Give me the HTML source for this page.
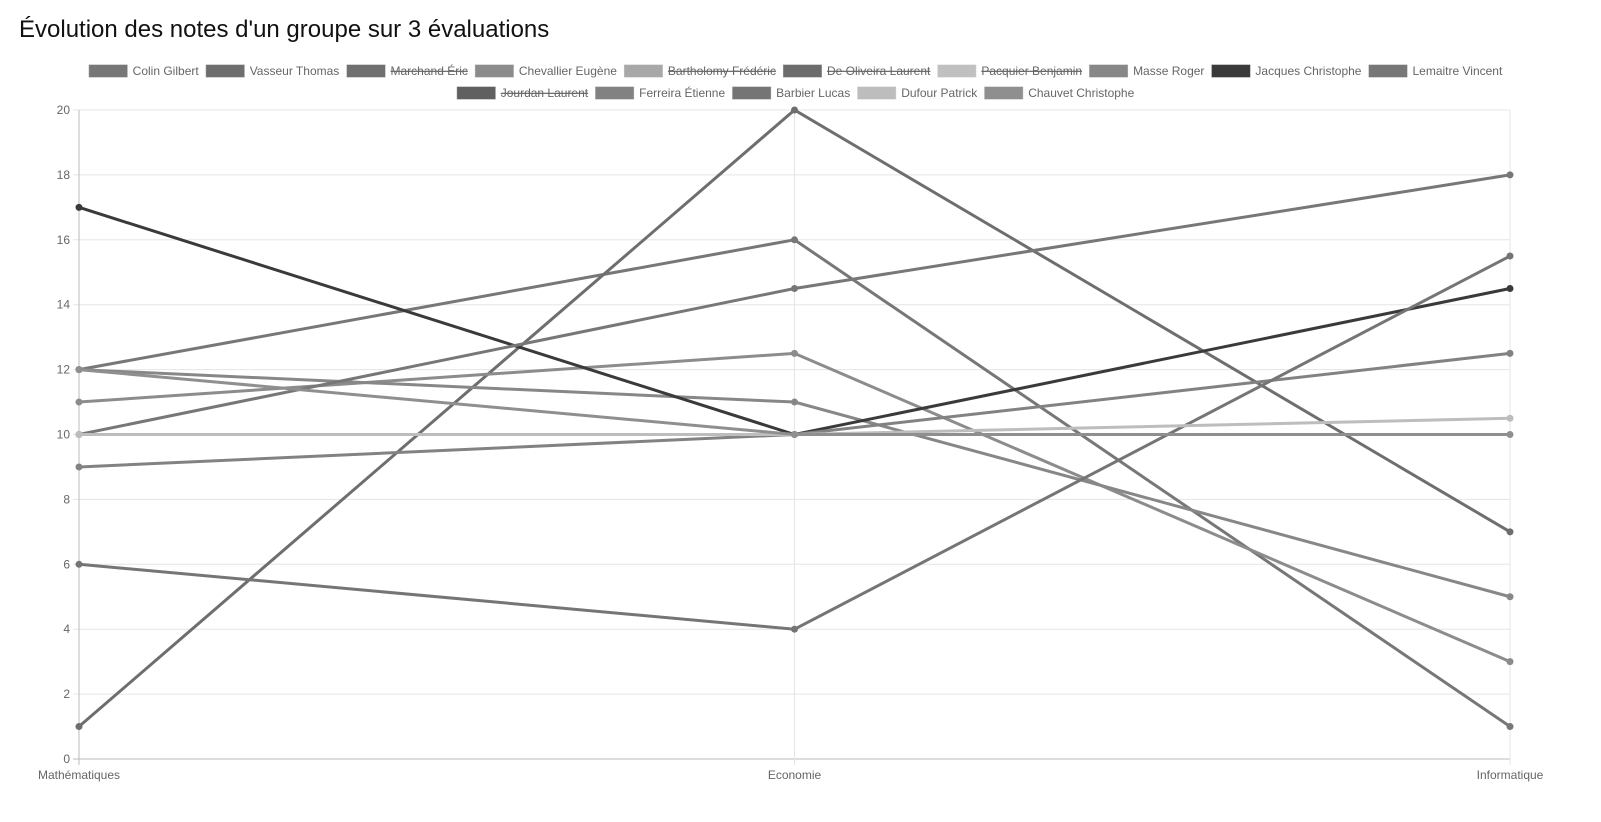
<!DOCTYPE html>
<html><head><meta charset="utf-8"><style>
body{margin:0;background:#fff;width:1601px;height:817px;overflow:hidden;font-family:"Liberation Sans",Arial,sans-serif}
</style></head><body>
<svg id="c" width="1601" height="817" xmlns="http://www.w3.org/2000/svg">
<text x="19" y="37" font-size="24" fill="#111" font-family="Liberation Sans, sans-serif">Évolution des notes d'un groupe sur 3 évaluations</text>
</svg>
<script>
const categories=["Mathématiques","Economie","Informatique"];
const yTicks=[0,2,4,6,8,10,12,14,16,18,20];
const names=["Colin Gilbert","Vasseur Thomas","Marchand Éric","Chevallier Eugène","Bartholomy Frédéric","De Oliveira Laurent","Pacquier Benjamin","Masse Roger","Jacques Christophe","Lemaitre Vincent","Jourdan Laurent","Ferreira Étienne","Barbier Lucas","Dufour Patrick","Chauvet Christophe"];
const colors=["#777777","#6e6e6e","#707070","#8c8c8c","#a8a8a8","#6c6c6c","#c0c0c0","#878787","#3a3a3a","#777777","#606060","#828282","#757575","#bdbdbd","#8f8f8f"];
const hidden=[false,false,true,false,true,true,true,false,false,false,true,false,false,false,false];
const s0=[12,16,1];
const s1=[1,20,7];
const s2=[10,10,10];
const s3=[11,12.5,3];
const s4=[10,10,10];
const s5=[10,10,10];
const s6=[10,10,10];
const s7=[12,11,5];
const s8=[17,10,14.5];
const s9=[10,14.5,18];
const s10=[10,10,10];
const s11=[9,10,12.5];
const s12=[6,4,15.5];
const s13=[10,10,10.5];
const s14=[12,10,10];
const series=[s0,s1,s2,s3,s4,s5,s6,s7,s8,s9,s10,s11,s12,s13,s14];

const svg=document.getElementById('c');
const NS="http://www.w3.org/2000/svg";
const X0=79,X1=1510,Y0=759,Y1=110;
const xs=i=>X0+(X1-X0)*i/(categories.length-1);
const ys=v=>Y0-(Y0-Y1)*v/20;
function mk(t,a){const e=document.createElementNS(NS,t);for(const k in a)e.setAttribute(k,a[k]);svg.appendChild(e);return e;}
yTicks.forEach(v=>{
 const l=mk('line',{x1:X0-6,x2:X1,y1:ys(v),y2:ys(v),stroke:v===0?'#bbb':'#e5e5e5','stroke-width':1});
 
 
 const t=mk('text',{x:X0-9,y:ys(v)+4,'text-anchor':'end','font-size':12,fill:'#666'});
 t.textContent=v;
 
 
});
categories.forEach((c,i)=>{
 const l=mk('line',{x1:xs(i),x2:xs(i),y1:Y1,y2:Y0+6,stroke:i===0?'#bbb':'#e5e5e5','stroke-width':1});
 
 
 const t=mk('text',{x:xs(i),y:779,'text-anchor':'middle','font-size':12,fill:'#666'});
 t.textContent=c;
 
 
});
series.forEach((d,si)=>{
 if(hidden[si])return;
 const p=mk('polyline',{points:d.map((v,i)=>xs(i)+','+ys(v)).join(' '),fill:'none',stroke:colors[si],'stroke-width':3});
 
 
 d.forEach((v,i)=>{
  const c=mk('circle',{cx:xs(i),cy:ys(v),r:3.5,fill:colors[si]});
  
  
 });
});
const rows=[[0,1,2,3,4,5,6,7,8,9],[10,11,12,13,14]];
const rowY=[71,93];
const ctx=document.createElement('canvas').getContext('2d');
ctx.font='12px "Liberation Sans", Arial, sans-serif';
rows.forEach((r,ri)=>{
 const widths=r.map(i=>39+5+ctx.measureText(names[i]).width+7);
 const total=widths.reduce((a,b)=>a+b,0)-7;
 let x=(X0+X1)/2+1-total/2;
 r.forEach((i,k)=>{
  const b=mk('rect',{x:x,y:rowY[ri]-6.5,width:39,height:13,fill:colors[i],stroke:'rgba(255,255,255,0.4)'});
  
  
  const t=mk('text',{x:x+44,y:rowY[ri]+4,'font-size':12,fill:'#666'});
  t.textContent=names[i];
  if(hidden[i])t.setAttribute('text-decoration','line-through');
  
  
  x+=widths[k];
 });
});
</script>
</body></html>
